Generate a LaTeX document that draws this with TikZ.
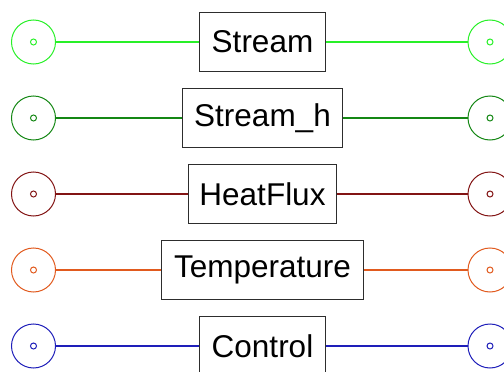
\documentclass[tikz,border=0pt]{standalone}
\usepackage{fontspec}
\setmainfont{Liberation Sans}
\definecolor{cStream}{RGB}{40,240,40}
\definecolor{cStreamH}{RGB}{20,135,20}
\definecolor{cHeat}{RGB}{130,20,20}
\definecolor{cTemp}{RGB}{225,90,30}
\definecolor{cCtrl}{RGB}{30,30,185}
\definecolor{boxline}{RGB}{45,45,45}
\begin{document}
\begin{tikzpicture}[x=1pt,y=-1pt,
  port/.style={circle,draw=#1,line width=1pt,minimum size=44pt,inner sep=0pt},
  pin/.style={circle,draw=#1,line width=1pt,minimum size=6pt,inner sep=0pt},
  conn/.style={draw=#1,line width=1.2pt},
  label box/.style={draw=boxline,line width=1.4pt,fill=white,minimum height=59pt,
    inner sep=0pt,font=\fontsize{31.5}{36}\selectfont}]
\useasboundingbox (0,0) rectangle (504,372);
% ports and labelled boxes
\foreach \n/\t/\lc/\y/\w in {1/Stream/cStream/42/126,
                            2/Stream\_h/cStreamH/118/160,
                            3/HeatFlux/cHeat/194/148,
                            4/Temperature/cTemp/270/202,
                            5/Control/cCtrl/346/126}{
  \node[port=\lc] (l\n) at (33.5,\y) {};
  \node[pin=\lc] (lp\n) at (l\n.center) {};
  \node[port=\lc] (r\n) at (490,\y) {};
  \node[pin=\lc] (rp\n) at (r\n.center) {};
  \node[label box,minimum width=\w pt] (b\n) at (262.5,\y) {\t};
}
% connectors
\draw[conn=cStream]  (l1) -- (b1) (b1) -- (r1);
\draw[conn=cStreamH] (l2) -- (b2) (b2) -- (r2);
\draw[conn=cHeat]    (l3) -- (b3) (b3) -- (r3);
\draw[conn=cTemp]    (l4) -- (b4) (b4) -- (r4);
\draw[conn=cCtrl]    (l5) -- (b5) (b5) -- (r5);
\end{tikzpicture}
\end{document}
